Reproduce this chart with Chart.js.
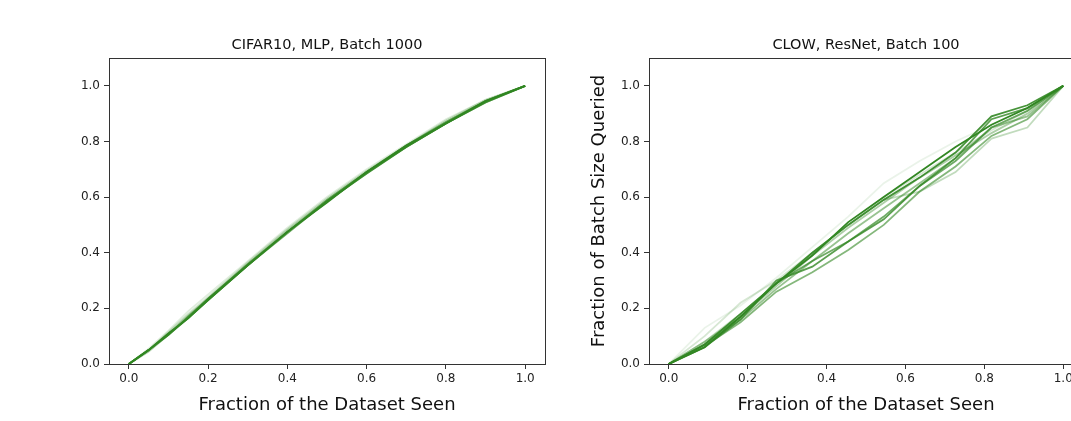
<!DOCTYPE html>
<html>
<head>
<meta charset="utf-8">
<script src="https://cdn.jsdelivr.net/npm/chart.js@4.4.0/dist/chart.umd.min.js"></script>
<style>
  html, body { margin: 0; padding: 0; background: #fff; overflow: hidden; width: 1071px; height: 421px; }
  #wrap { position: relative; width: 1071px; height: 421px; overflow: hidden; }
  canvas { position: absolute; top: 0; }
  #leftChart { left: 0; }
  #rightChart { left: 540px; }
</style>
</head>
<body>
<div id="wrap">
  <canvas id="leftChart" width="560" height="421"></canvas>
  <canvas id="rightChart" width="560" height="421"></canvas>
</div>
<script>
// tick labels
const xTicks = [0, 0.2, 0.4, 0.6, 0.8, 1.0];
const yTicks = [0, 0.2, 0.4, 0.6, 0.8, 1.0];

// CIFAR10, MLP, Batch 1000 -- fraction of dataset seen
const cifarX = [0, 0.05, 0.1, 0.15, 0.2, 0.3, 0.4, 0.5, 0.6, 0.7, 0.8, 0.9, 1.0];
const cifarRuns = [
  [0, 0.055, 0.12, 0.19, 0.25, 0.37, 0.49, 0.60, 0.70, 0.79, 0.88, 0.95, 1],
  [0, 0.05, 0.115, 0.18, 0.24, 0.365, 0.485, 0.595, 0.695, 0.785, 0.875, 0.95, 1],
  [0, 0.05, 0.11, 0.175, 0.235, 0.36, 0.48, 0.59, 0.69, 0.785, 0.87, 0.945, 1],
  [0, 0.045, 0.105, 0.17, 0.23, 0.355, 0.475, 0.585, 0.685, 0.78, 0.865, 0.94, 1],
  [0, 0.05, 0.11, 0.165, 0.235, 0.36, 0.475, 0.59, 0.69, 0.785, 0.87, 0.945, 1],
  [0, 0.05, 0.105, 0.17, 0.235, 0.355, 0.47, 0.585, 0.69, 0.78, 0.865, 0.945, 1],
  [0, 0.05, 0.105, 0.165, 0.23, 0.355, 0.475, 0.585, 0.685, 0.78, 0.865, 0.94, 1],
  [0, 0.05, 0.11, 0.165, 0.23, 0.355, 0.475, 0.58, 0.69, 0.785, 0.865, 0.945, 1]
];
const cifarAlpha = [0.15, 0.25, 0.35, 0.45, 0.6, 0.75, 0.9, 1.0];

// CLOW, ResNet, Batch 100
const clowX = [0, 0.091, 0.182, 0.273, 0.364, 0.455, 0.545, 0.636, 0.727, 0.818, 0.909, 1.0];
const clowRuns = [
  [0, 0.13, 0.21, 0.31, 0.42, 0.53, 0.65, 0.73, 0.80, 0.86, 0.92, 1],
  [0, 0.10, 0.22, 0.30, 0.40, 0.50, 0.60, 0.68, 0.76, 0.84, 0.91, 1],
  [0, 0.08, 0.18, 0.29, 0.40, 0.50, 0.59, 0.62, 0.69, 0.81, 0.85, 1],
  [0, 0.08, 0.17, 0.28, 0.39, 0.49, 0.58, 0.67, 0.75, 0.83, 0.90, 1],
  [0, 0.07, 0.16, 0.27, 0.37, 0.47, 0.56, 0.65, 0.74, 0.85, 0.89, 1],
  [0, 0.065, 0.15, 0.26, 0.33, 0.41, 0.50, 0.62, 0.71, 0.82, 0.88, 1],
  [0, 0.07, 0.17, 0.29, 0.37, 0.44, 0.53, 0.64, 0.73, 0.85, 0.91, 1],
  [0, 0.06, 0.16, 0.30, 0.35, 0.44, 0.52, 0.64, 0.74, 0.88, 0.92, 1],
  [0, 0.07, 0.18, 0.29, 0.40, 0.50, 0.59, 0.67, 0.76, 0.89, 0.93, 1],
  [0, 0.06, 0.17, 0.29, 0.39, 0.51, 0.60, 0.69, 0.78, 0.86, 0.92, 1]
];
const clowAlpha = [0.1, 0.2, 0.3, 0.4, 0.5, 0.6, 0.7, 0.8, 0.9, 1.0];

const fontFamily = "'DejaVu Sans', sans-serif";

// matplotlib style full box around the axes + title centred on the axes
const frameBox = {
  id: "frameBox",
  afterDraw(chart, args, opts) {
    const { ctx, chartArea: a } = chart;
    ctx.save();
    ctx.strokeStyle = "#333";
    ctx.lineWidth = 1;
    ctx.strokeRect(Math.round(a.left) + 0.5, Math.round(a.top) + 0.5,
      Math.round(a.right - a.left), Math.round(a.bottom - a.top));
    ctx.fillStyle = "#111";
    ctx.font = "14.5px " + fontFamily;
    ctx.textAlign = "center";
    ctx.textBaseline = "middle";
    ctx.fillText(opts.text, (a.left + a.right) / 2, 45);
    ctx.restore();
  }
};

function makeDatasets(xs, runs, alphas) {
  return runs.map((run, i) => ({
    data: run.map((v, j) => ({ x: xs[j], y: v })),
    borderColor: "rgba(50, 135, 35, " + alphas[i] + ")",
    borderWidth: 1.8,
    pointRadius: 0,
    tension: 0,
    fill: false
  }));
}

function makeChart(id, title, datasets, yLabel, padRight) {
  const ctx = document.getElementById(id).getContext("2d");
  return new Chart(ctx, {
    type: "line",
    data: { datasets: datasets },
    options: {
      responsive: false,
      animation: false,
      events: [],
      layout: { padding: { left: 0, right: padRight, top: 58, bottom: 0 } },
      plugins: {
        legend: { display: false },
        tooltip: { enabled: false },
        title: { display: false },
        frameBox: { text: title }
      },
      scales: {
        x: {
          type: "linear",
          min: -0.05,
          max: 1.05,
          afterBuildTicks: (scale) => { scale.ticks = xTicks.map(v => ({ value: v })); },
          afterFit: (scale) => { scale.height = 57; },
          grid: { display: true, drawOnChartArea: false, drawTicks: true, tickLength: 5, color: "#333" },
          border: { display: false },
          ticks: {
            color: "#222",
            padding: 3,
            maxRotation: 0,
            font: { family: fontFamily, size: 12 },
            callback: (v) => Number(v).toFixed(1)
          },
          title: {
            display: true,
            text: "Fraction of the Dataset Seen",
            color: "#111",
            font: { family: fontFamily, size: 18, lineHeight: 1.2 },
            padding: { top: 0, bottom: 5.2 }
          }
        },
        y: {
          min: 0,
          max: 1.1,
          afterBuildTicks: (scale) => { scale.ticks = yTicks.map(v => ({ value: v })); },
          afterFit: (scale) => { scale.width = 109; },
          grid: { display: true, drawOnChartArea: false, drawTicks: true, tickLength: 5, color: "#333" },
          border: { display: false },
          ticks: {
            color: "#222",
            padding: 4,
            font: { family: fontFamily, size: 12 },
            callback: (v) => Number(v).toFixed(1)
          },
          title: {
            display: !!yLabel,
            text: yLabel || "",
            color: "#111",
            font: { family: fontFamily, size: 18, lineHeight: 1.2 },
            padding: { top: 49, bottom: 0 }
          }
        }
      }
    },
    plugins: [frameBox]
  });
}

makeChart("leftChart", "CIFAR10, MLP, Batch 1000",
  makeDatasets(cifarX, cifarRuns, cifarAlpha), null, 15);
makeChart("rightChart", "CLOW, ResNet, Batch 100",
  makeDatasets(clowX, clowRuns, clowAlpha), "Fraction of Batch Size Queried", 17);
</script>
</body>
</html>
